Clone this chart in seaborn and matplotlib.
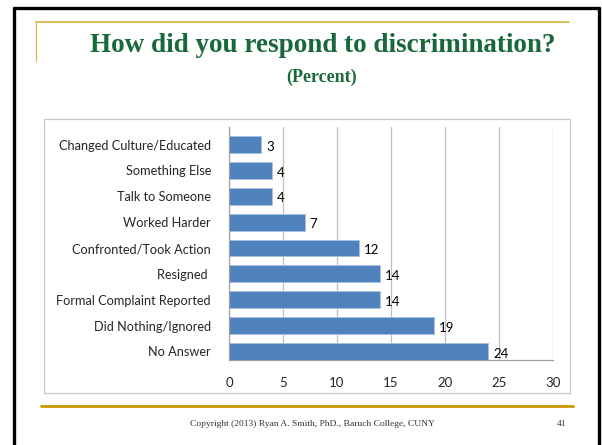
import matplotlib
matplotlib.use("Agg")
import matplotlib.pyplot as plt
import numpy as np
import pandas as pd
import seaborn as sns
from matplotlib.patches import Rectangle
from matplotlib.lines import Line2D

# data
categories = [
    "Changed Culture/Educated",
    "Something Else",
    "Talk to Someone",
    "Worked Harder",
    "Confronted/Took Action",
    "Resigned ",
    "Formal Complaint Reported",
    "Did Nothing/Ignored",
    "No Answer",
]
percents = [3, 4, 4, 7, 12, 14, 14, 19, 24]
x_ticks = [0, 5, 10, 15, 20, 25, 30]

title = "How did you respond to discrimination?"
subtitle = "(Percent)"
footer = "Copyright (2013) Ryan A. Smith, PhD., Baruch College, CUNY"
page_no = "41"

df = pd.DataFrame({"response": categories, "percent": percents})

sns.set_style("white")
plt.rcParams["font.family"] = ["Lato", "DejaVu Sans"]

BAR = "#4F81BD"
GRID = "#BFBFBF"
GREEN = "#17693A"
GOLD_TOP = "#DDB64A"
GOLD_BOT = "#CC9900"

W, H = 602, 445
fig = plt.figure(figsize=(W / 100, H / 100), dpi=100)

# slide decoration layer, pixel coordinates
bg = fig.add_axes([0, 0, 1, 1], zorder=0)
bg.set_xlim(0, W)
bg.set_ylim(H, 0)
bg.axis("off")

bg.add_line(Line2D([13.5, 13.5], [8, H + 5], color="black", lw=2.4))
bg.add_line(Line2D([13.5, 598.5], [8, 8], color="black", lw=2.4))
bg.add_line(Line2D([598.5, 598.5], [8, H + 5], color="black", lw=2.4))

bg.add_line(Line2D([36, 569], [22, 22], color=GOLD_TOP, lw=1.3))
bg.add_line(Line2D([36, 36], [22, 61], color=GOLD_TOP, lw=0.9))
bg.add_line(Line2D([41, 573], [406, 406], color=GOLD_BOT, lw=2.0))

bg.add_patch(Rectangle((44, 119), 526, 274, fill=False, ec="#C8C8C8", lw=0.9))

serif = ["Liberation Serif", "DejaVu Serif"]
bg.text(323, 46, title, ha="center", va="center", fontsize=19.5,
        fontweight="bold", color=GREEN, family=serif)
bg.text(322, 77, subtitle, ha="center", va="center", fontsize=13,
        fontweight="bold", color=GREEN, family=serif)
bg.text(312, 424, footer, ha="center", va="center", fontsize=6.8,
        color="#333333", family=serif)
bg.text(562, 424, page_no, ha="center", va="center", fontsize=6.8,
        color="#333333", family=serif)

# the chart itself
ax = fig.add_axes([229 / W, 1 - 360 / H, 324 / W, 233 / H], zorder=1)
ax.set_facecolor("none")

sns.barplot(data=df, x="percent", y="response", orient="h", color=BAR,
            saturation=1, width=0.65, edgecolor="#A9C1DF", linewidth=0.6,
            ax=ax)

ax.set_xlim(0, 30)
ax.set_ylim(8.33, -0.68)
ax.set_xticks(x_ticks)
ax.set_xticklabels([str(t) for t in x_ticks], fontsize=9.5)
ax.tick_params(axis="x", length=0, pad=12)
ax.set_yticks(range(len(categories)))
ax.set_yticklabels(categories, fontsize=9.2)
ax.tick_params(axis="y", which="major", length=0, pad=13)
ax.set_yticks(np.arange(-1, len(categories)) + 0.32, minor=True)
ax.tick_params(axis="y", which="minor", length=5, color="#A0A0A0", width=0.8)
ax.set_xlabel("")
ax.set_ylabel("")

ax.grid(axis="x", color=GRID, lw=0.9)
ax.grid(axis="y", visible=False)
ax.set_axisbelow(True)
for side in ["top", "right"]:
    ax.spines[side].set_visible(False)
for side in ["left", "bottom"]:
    ax.spines[side].set_color("#A0A0A0")
    ax.spines[side].set_linewidth(0.9)

for i, v in enumerate(percents):
    ax.text(v + 0.45, i + 0.08, str(v), ha="left", va="center",
            fontsize=9.5, color="black")

fig.savefig("out.png", dpi=100, facecolor="white")
